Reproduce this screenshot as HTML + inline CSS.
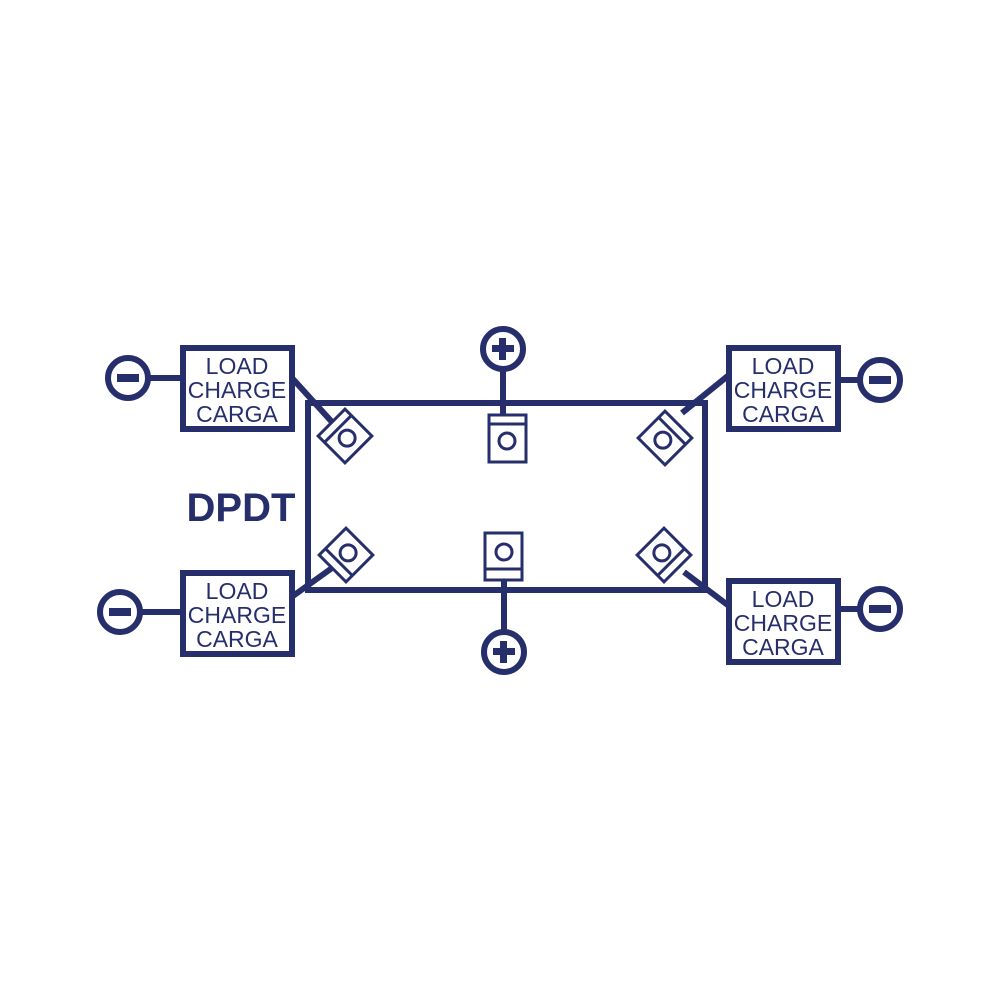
<!DOCTYPE html>
<html><head><style>body{margin:0;background:#fff}svg{display:block}</style></head><body>
<svg width="1000" height="1000" viewBox="0 0 1000 1000" xmlns="http://www.w3.org/2000/svg">
<g stroke="#262f6c" fill="none" stroke-width="6">
<rect x="308" y="403" width="397" height="187"/>
<line x1="292" y1="378" x2="332" y2="422"/>
<line x1="729" y1="375" x2="682" y2="413"/>
<line x1="293" y1="596" x2="332" y2="568"/>
<line x1="729" y1="606" x2="684" y2="572"/>
<line x1="503" y1="369" x2="503" y2="416"/>
<line x1="504" y1="579" x2="504" y2="632"/>
<line x1="148" y1="378" x2="182" y2="378"/>
<line x1="140" y1="612" x2="182" y2="612"/>
<line x1="838" y1="380" x2="860" y2="380"/>
<line x1="838" y1="609" x2="858" y2="609"/>
<rect x="183" y="348" width="109" height="81"/>
<rect x="183" y="573" width="109" height="81"/>
<rect x="729" y="348" width="109" height="81"/>
<rect x="729" y="581" width="109" height="81"/>
<circle cx="128" cy="378" r="20"/>
<circle cx="120" cy="612" r="20"/>
<circle cx="880" cy="380" r="20"/>
<circle cx="880" cy="609" r="20"/>
<circle cx="503" cy="349" r="20"/>
<circle cx="504" cy="652" r="20"/>
</g>
<g fill="#262f6c">
<rect x="117" y="374" width="22" height="8"/>
<rect x="109" y="608" width="22" height="8"/>
<rect x="869" y="376" width="22" height="8"/>
<rect x="869" y="605" width="22" height="8"/>
<rect x="492" y="345" width="22" height="7"/><rect x="499" y="338" width="7" height="22"/>
<rect x="493" y="648" width="22" height="7"/><rect x="500" y="641" width="7" height="22"/>
</g>
<g stroke="#262f6c" fill="#fff" stroke-width="3">
<rect x="489" y="415" width="37" height="47"/><line x1="489" y1="424" x2="526" y2="424"/><circle cx="507" cy="441" r="8"/>
<rect x="485" y="533" width="37" height="47"/><line x1="485" y1="569" x2="522" y2="569"/><circle cx="504" cy="552" r="8"/>
<g transform="translate(345,436) rotate(-45)"><rect x="-19" y="-19" width="38" height="38"/><line x1="-19" y1="-10" x2="19" y2="-10"/><circle cx="0" cy="3" r="8"/></g>
<g transform="translate(665,438) rotate(45)"><rect x="-19" y="-19" width="38" height="38"/><line x1="-19" y1="-10" x2="19" y2="-10"/><circle cx="0" cy="3" r="8"/></g>
<g transform="translate(346,555) rotate(-135)"><rect x="-19" y="-19" width="38" height="38"/><line x1="-19" y1="-10" x2="19" y2="-10"/><circle cx="0" cy="3" r="8"/></g>
<g transform="translate(664,555) rotate(135)"><rect x="-19" y="-19" width="38" height="38"/><line x1="-19" y1="-10" x2="19" y2="-10"/><circle cx="0" cy="3" r="8"/></g>
</g>
<g fill="#262f6c" font-family="Liberation Sans, sans-serif" font-size="23" text-anchor="middle">
<text x="237" y="374">LOAD</text><text x="237" y="398">CHARGE</text><text x="237" y="422">CARGA</text>
<text x="237" y="599">LOAD</text><text x="237" y="623">CHARGE</text><text x="237" y="647">CARGA</text>
<text x="783" y="374">LOAD</text><text x="783" y="398">CHARGE</text><text x="783" y="422">CARGA</text>
<text x="783" y="607">LOAD</text><text x="783" y="631">CHARGE</text><text x="783" y="655">CARGA</text>
<text x="241" y="521" font-size="40" font-weight="bold">DPDT</text>
</g>
</svg>
</body></html>
